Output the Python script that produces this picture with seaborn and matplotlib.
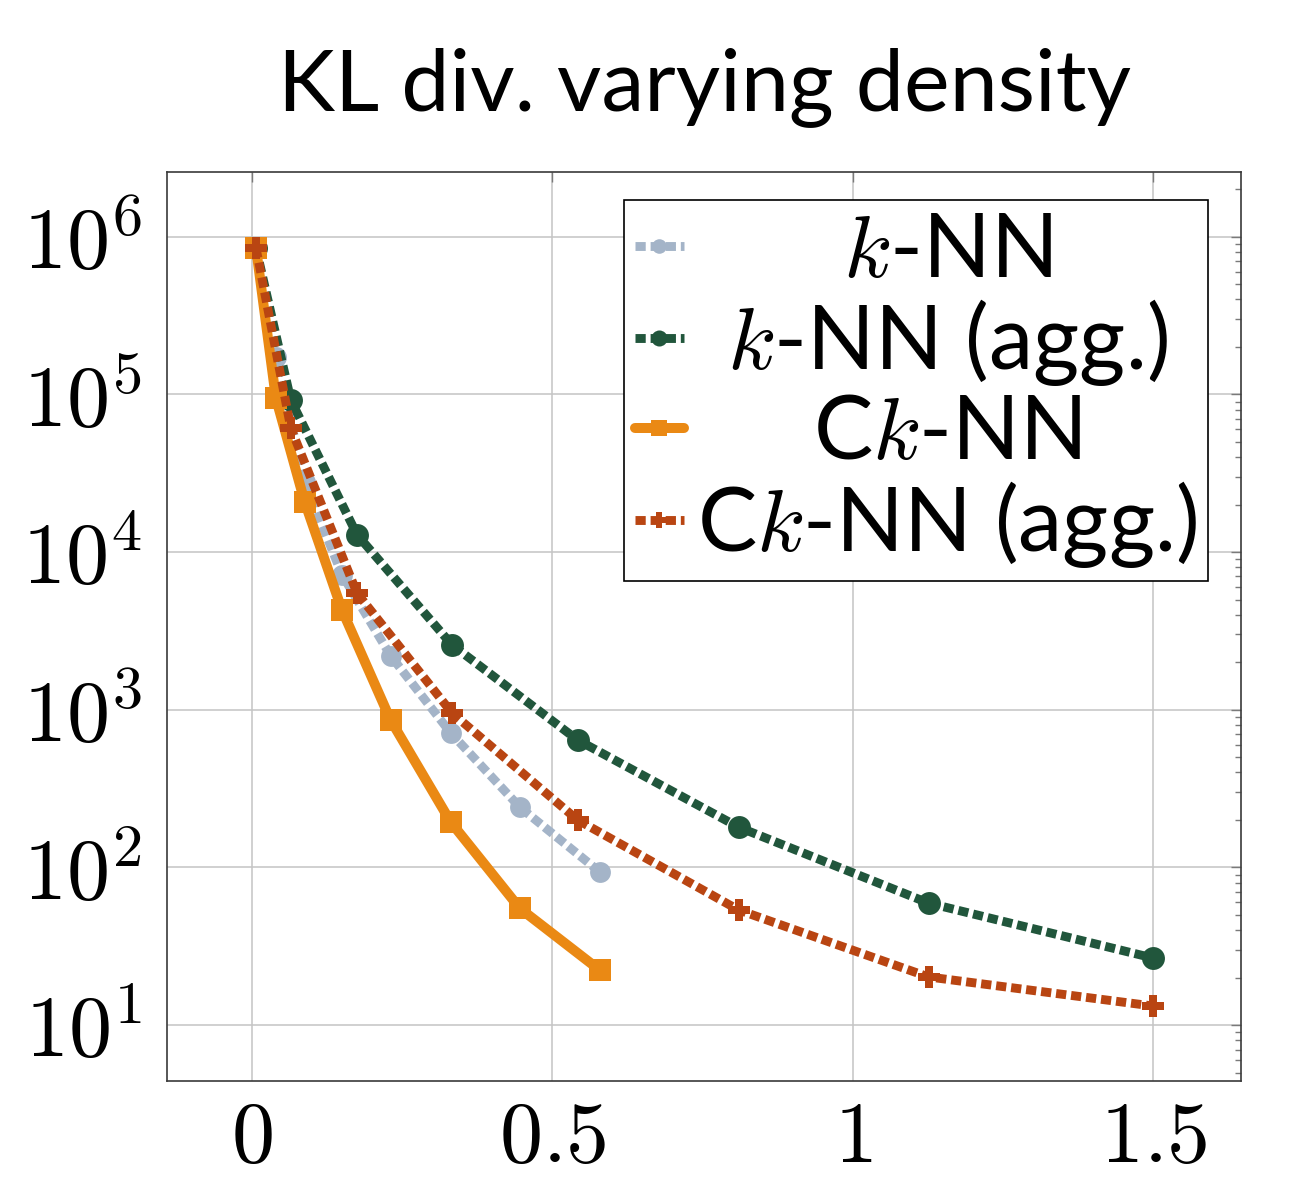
import matplotlib
matplotlib.use('Agg')
import matplotlib.pyplot as plt
import seaborn as sns
import pandas as pd

# values (x = density, y = KL divergence)
series_names = ['$k$-NN', '$k$-NN (agg.)', 'C$k$-NN', 'C$k$-NN (agg.)']
x_single = [0.007, 0.040, 0.088, 0.150, 0.231, 0.331, 0.446, 0.579]
x_agg = [0.007, 0.065, 0.175, 0.333, 0.542, 0.810, 1.126, 1.500]
knn = [8.5e5, 1.73e5, 2.8e4, 7.2e3, 2.2e3, 713, 241, 93.6]
knn_agg = [8.5e5, 9.2e4, 1.29e4, 2.58e3, 643, 180, 59.4, 26.6]
cknn = [8.5e5, 9.5e4, 2.08e4, 4.3e3, 860, 194, 55, 22.3]
cknn_agg = [8.5e5, 6.1e4, 5.5e3, 955, 200, 53.7, 20.2, 13.2]

x_ticks = [0, 0.5, 1, 1.5]
x_ticklabels = ['$0$', '$0.5$', '$1$', '$1.5$']
y_ticks = [1e1, 1e2, 1e3, 1e4, 1e5, 1e6]
y_ticklabels = ['$10^{1}$', '$10^{2}$', '$10^{3}$', '$10^{4}$', '$10^{5}$', '$10^{6}$']

colors = ['#a4b4c8', '#21563c', '#ea8914', '#b94512']
markers = ['o', 'o', 's', 'P']
dotted = (0, (1.15, 0.55))

sns.set_theme(style='whitegrid')
plt.rcParams['font.family'] = ['Lato', 'DejaVu Sans']
plt.rcParams['mathtext.fontset'] = 'cm'
plt.rcParams['text.color'] = 'black'
plt.rcParams['xtick.labelcolor'] = 'black'
plt.rcParams['ytick.labelcolor'] = 'black'

fig = plt.figure(figsize=(12.89, 11.8), dpi=100)
ax = fig.add_axes([0.1296, 0.0839, 0.8332, 0.7703])

data = [(x_single, knn), (x_agg, knn_agg), (x_single, cknn), (x_agg, cknn_agg)]
for i, (xs, ys) in enumerate(data):
    df = pd.DataFrame({'x': xs, 'y': ys})
    solid = i == 2
    sns.lineplot(data=df, x='x', y='y', ax=ax, sort=False, color=colors[i],
                 linestyle='-' if solid else dotted,
                 linewidth=7.2 if solid else 6.4,
                 marker=markers[i], markersize=16.5 if i != 0 else 15,
                 markeredgewidth=0, label=series_names[i],
                 dash_capstyle='butt', zorder=3 + i)

ax.set_yscale('log')
ax.set_xlim(-0.141, 1.646)
ax.set_ylim(4.42, 2.57e6)
ax.set_xticks(x_ticks)
ax.set_xticklabels(x_ticklabels)
ax.set_yticks(y_ticks)
ax.set_yticklabels(y_ticklabels)
ax.yaxis.set_minor_locator(matplotlib.ticker.LogLocator(base=10, subs=range(2, 10), numticks=20))
ax.yaxis.set_minor_formatter(matplotlib.ticker.NullFormatter())
ax.set_xlabel('')
ax.set_ylabel('')

ax.grid(True, which='major', color='#c4c4c4', linewidth=1.1)
ax.grid(False, which='minor')
ax.set_facecolor('white')
for s in ax.spines.values():
    s.set_color('#3a3a3a')
    s.set_linewidth(1.2)
ax.tick_params(which='both', direction='in', top=True, right=True,
               color='#7a7a7a', width=1.0, labelsize=62)
ax.tick_params(which='major', length=7)
ax.tick_params(which='minor', length=4)
ax.tick_params(axis='x', pad=13)
ax.tick_params(axis='y', pad=18)

fig.text(0.5465, 0.907, 'KL div. varying density', ha='center', va='baseline',
         fontsize=62, color='black')

leg = ax.legend(loc='upper right', bbox_to_anchor=(0.969, 0.969), borderaxespad=0,
                fontsize=64, frameon=True, fancybox=False, framealpha=1,
                edgecolor='black', handlelength=0.55, handletextpad=0.15,
                labelspacing=0.05, borderpad=0.12, markerscale=0.7)
leg.get_frame().set_linewidth(1.2)

# centre the labels inside the legend column
fig.canvas.draw()
r = fig.canvas.get_renderer()
widths = [t.get_window_extent(r).width for t in leg.get_texts()]
wmax = max(widths)
for t, w in zip(leg.get_texts(), widths):
    t.set_x((wmax - w) / 2)

fig.savefig('out.png', dpi=100)
